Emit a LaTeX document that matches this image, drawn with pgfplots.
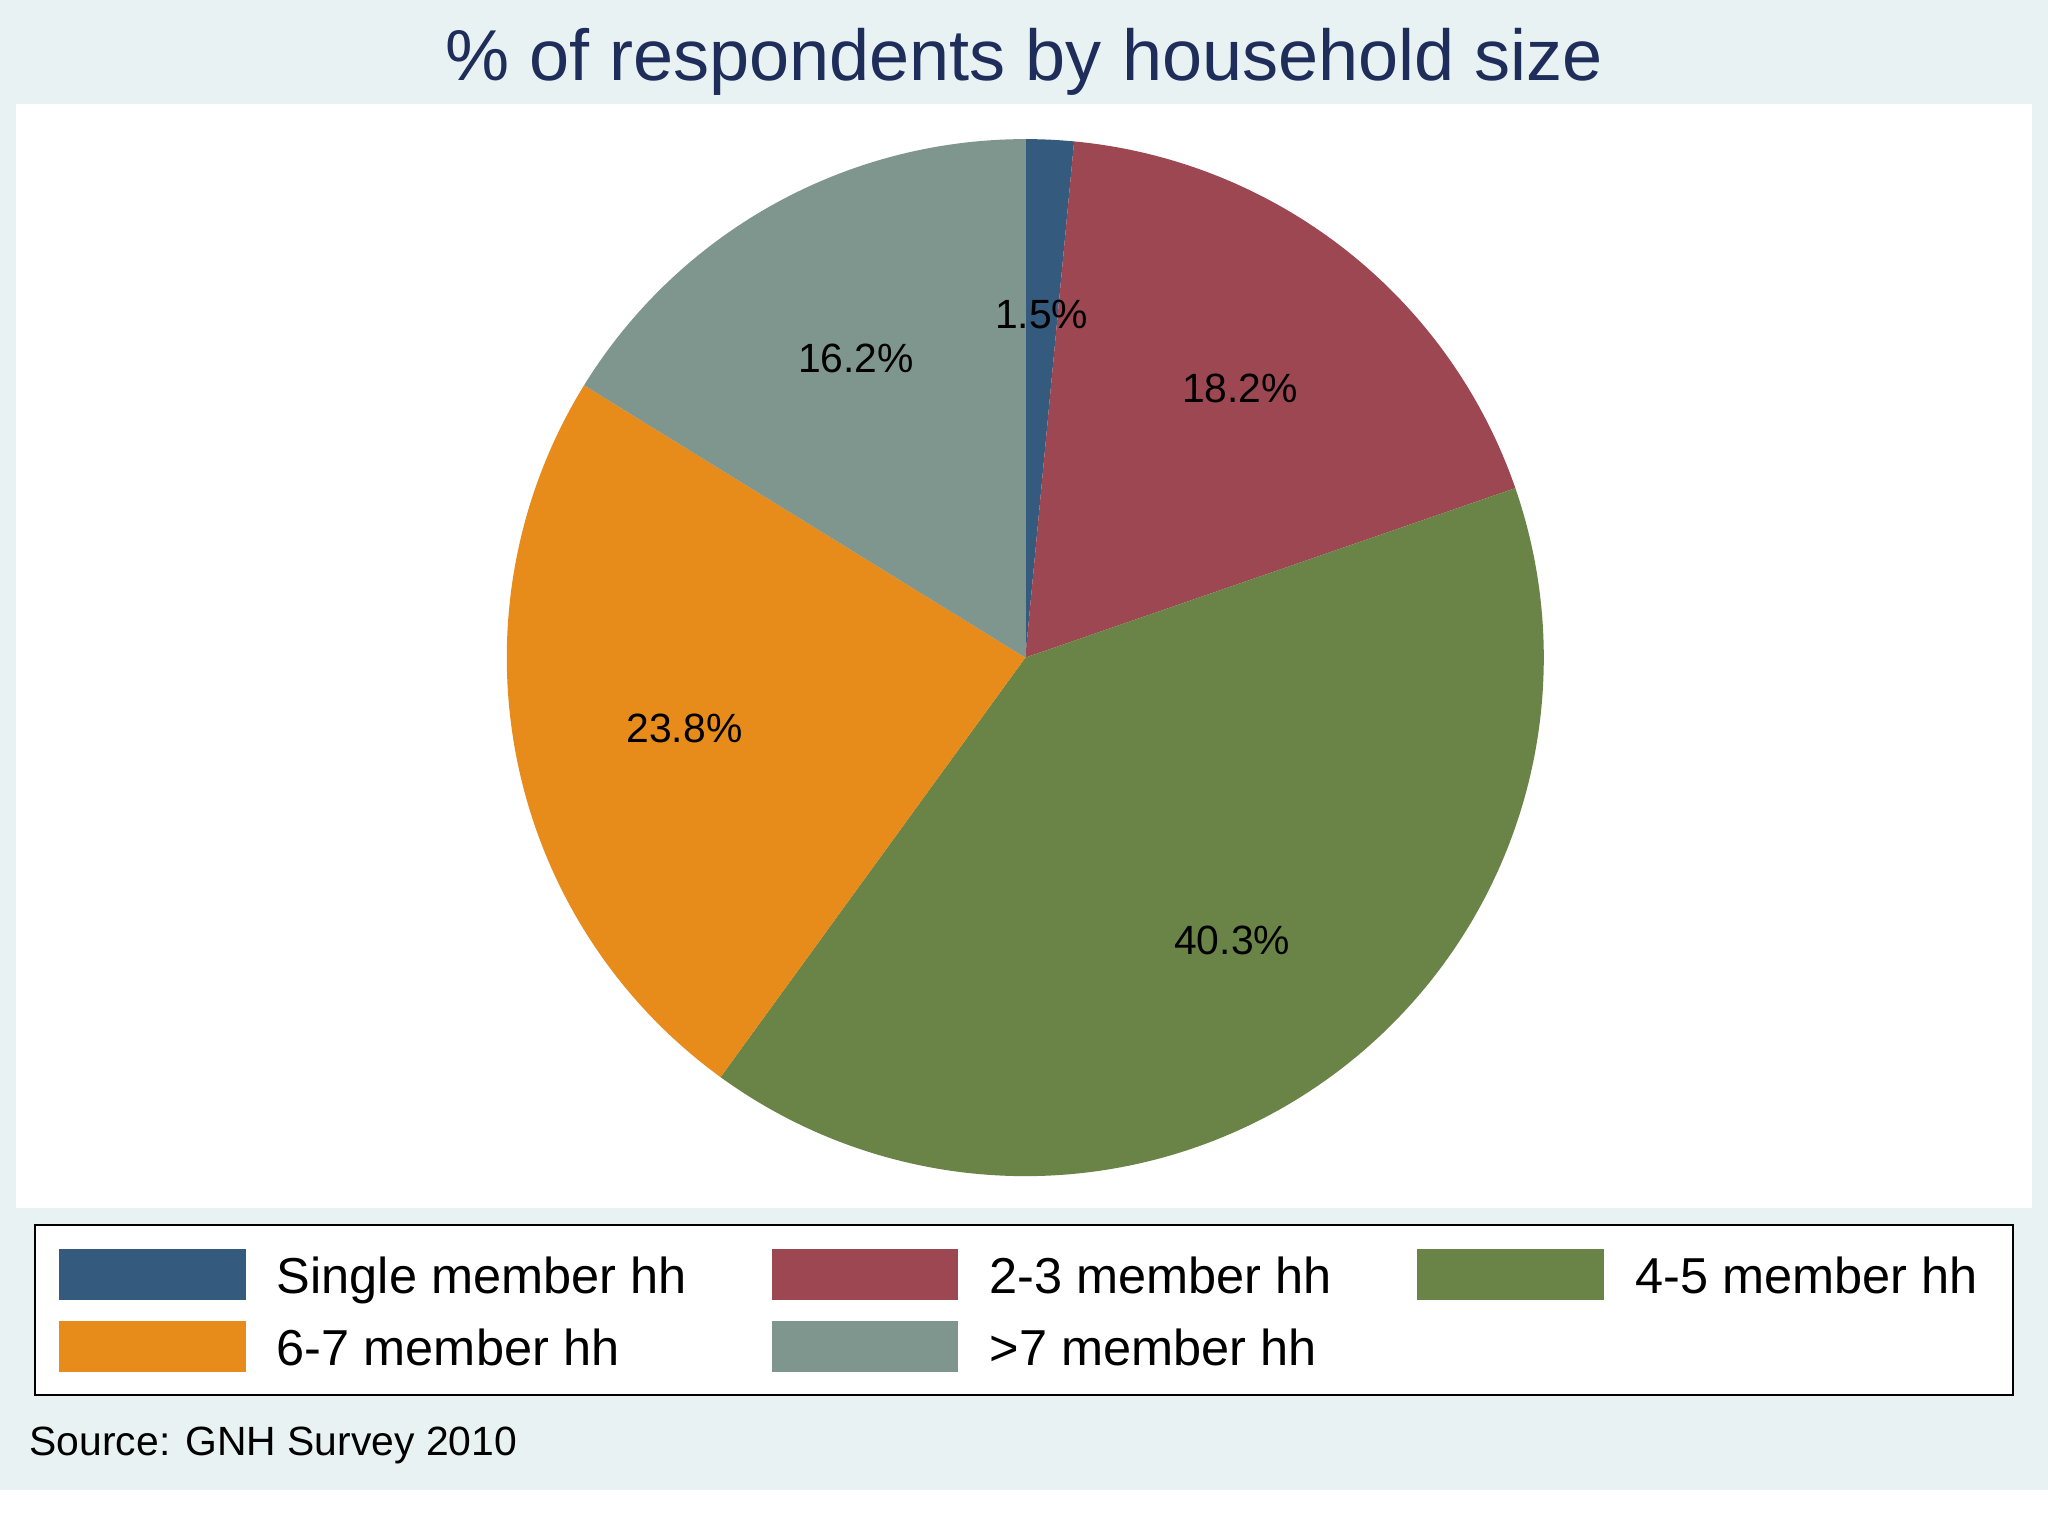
\documentclass[border=0pt]{standalone}
\usepackage{pgfplots}
\pgfplotsset{compat=1.18}
\usepackage{pgfplotstable}
\usepackage{fontspec}
\setmainfont{Liberation Sans}

\definecolor{bgc}{RGB}{233,242,242}
\definecolor{titlec}{RGB}{30,45,90}
\definecolor{cnavy}{RGB}{52,90,125}
\definecolor{cmaroon}{RGB}{156,71,82}
\definecolor{cgreen}{RGB}{106,132,72}
\definecolor{corange}{RGB}{231,139,27}
\definecolor{cteal}{RGB}{126,150,142}

% share of respondents, with cumulative start/end (in %)
\pgfplotstableread{
start end pct
0.0 1.5 1.5
1.5 19.7 18.2
19.7 60.0 40.3
60.0 83.8 23.8
83.8 100.0 16.2
}\piedata

\newcommand{\pieslice}[3]{%
  \addplot[draw=none, fill=#1, domain={90-3.6*(#3)}:{90-3.6*(#2)}, samples=150, variable=\t]
    ({cos(\t)},{sin(\t)}) -- (axis cs:0,0) -- cycle;}

\begin{document}
\begin{tikzpicture}
% backgrounds
\fill[white] (0,0) rectangle (156.8mm,-117.6mm);
\fill[bgc] (0,0) rectangle (156.8mm,-114.1mm);
\fill[white] (1.2mm,-8.0mm) rectangle (155.6mm,-92.5mm);
\filldraw[fill=white, draw=black, line width=0.15mm] (2.7mm,-93.8mm) rectangle (154.1mm,-106.8mm);
% title
\node[anchor=base, inner sep=0pt, text=titlec, font=\fontsize{15.7}{18}\selectfont] at (78.4mm,-6.15mm) {\% of respondents by household size};
% source
\node[anchor=base west, inner sep=0pt, font=\fontsize{8.9}{10}\selectfont] at (2.2mm,-111.4mm) {Source: GNH Survey 2010};

\begin{axis}[
  at={(78.5mm,-50.35mm)}, anchor=center,
  width=79.4mm, height=79.4mm, scale only axis,
  hide axis, clip=false,
  xmin=-1, xmax=1, ymin=-1, ymax=1,
  legend columns=3,
  legend cell align=left,
  legend image code/.code={\fill[#1] (0mm,-1.65mm) rectangle (14.3mm,2.25mm);},
  legend style={at={(-0.432,-0.07)}, anchor=north west, draw=none, fill=none,
    inner sep=0pt, outer sep=0pt, row sep=1.6mm,
    nodes={inner sep=0pt},
    font=\fontsize{11}{13}\selectfont,
    /tikz/every odd column/.append style={column sep=2.4mm},
    /tikz/every even column/.append style={column sep=6.5mm}},
]
\pieslice{cnavy}{0.0}{1.5}
\addlegendentry{Single member hh}
\pieslice{cmaroon}{1.5}{19.7}
\addlegendentry{2-3 member hh}
\pieslice{cgreen}{19.7}{60.0}
\addlegendentry{4-5 member hh}
\pieslice{corange}{60.0}{83.8}
\addlegendentry{6-7 member hh}
\pieslice{cteal}{83.8}{100.0}
\addlegendentry{>7 member hh}

\addplot[forget plot, only marks, mark=none,
  point meta=explicit,
  nodes near coords={\pgfmathprintnumber[fixed, fixed zerofill, precision=1, assume math mode=true]{\pgfplotspointmeta}\%},
  nodes near coords style={anchor=center, inner sep=0pt, yshift=-0.3mm, font=\fontsize{8.9}{10}\selectfont}]
  table[x expr={0.67*cos(90-1.8*(\thisrow{start}+\thisrow{end}))},
        y expr={0.67*sin(90-1.8*(\thisrow{start}+\thisrow{end}))},
        meta=pct] {\piedata};
\end{axis}
\end{tikzpicture}
\end{document}
